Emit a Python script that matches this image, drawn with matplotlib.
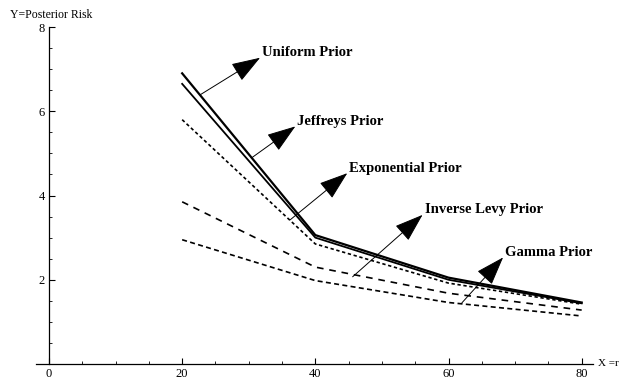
import matplotlib
matplotlib.use('Agg')
import matplotlib.pyplot as plt

# --- data ---
r = [20, 40, 60, 80]
uniform     = [6.90, 3.06, 2.05, 1.46]
jeffreys    = [6.65, 3.00, 2.00, 1.44]
exponential = [5.80, 2.85, 1.92, 1.42]
inv_levy    = [3.85, 2.30, 1.68, 1.28]
gamma       = [2.95, 1.98, 1.46, 1.14]

names  = ['Uniform Prior', 'Jeffreys Prior', 'Exponential Prior',
          'Inverse Levy Prior', 'Gamma Prior']
series = [uniform, jeffreys, exponential, inv_levy, gamma]
styles = [dict(ls='-', lw=1.6),
          dict(ls='-', lw=1.3),
          dict(ls=(0, (2.0, 1.6)), lw=1.2),
          dict(ls=(0, (4.0, 3.5)), lw=1.2),
          dict(ls=(0, (3.0, 2.0)), lw=1.2)]

# arrow tail (on curve) and label position, in data units
tails  = [(22.7, 6.39), (30.4, 4.89), (36.2, 3.42), (45.6, 2.07), (62.0, 1.45)]
labels = [(32.0, 7.39), (37.3, 5.76), (45.1, 4.65), (56.4, 3.66), (68.5, 2.65)]

plt.rcParams['font.family'] = ['Liberation Serif', 'DejaVu Serif']

fig = plt.figure(figsize=(6.2, 3.79), dpi=100)
ax = fig.add_axes([36/620, (379-364)/379, 557/620, 337/379])

for ys, st in zip(series, styles):
    ax.plot(r, ys, color='k', **st)

for name, (tx, ty), (lx, ly) in zip(names, tails, labels):
    ax.annotate('', xy=(lx - 0.3, ly - 0.12), xytext=(tx, ty),
                arrowprops=dict(arrowstyle='-|>,head_length=1.3,head_width=0.45',
                                mutation_scale=14, lw=0.7, color='k',
                                shrinkA=0, shrinkB=0))
    ax.text(lx, ly, name, fontsize=10.5, fontweight='bold',
            ha='left', va='center')

ax.set_xlim(-1.95, 81.7)
ax.set_ylim(0, 8)
ax.spines['left'].set_position(('data', 0))
ax.spines['right'].set_visible(False)
ax.spines['top'].set_visible(False)
ax.spines['left'].set_linewidth(0.9)
ax.spines['bottom'].set_linewidth(0.9)

ax.set_xticks([0, 20, 40, 60, 80])
ax.set_xticks(range(0, 81, 5), minor=True)
ax.set_yticks([2, 4, 6, 8])
ax.set_yticks([v * 0.5 for v in range(1, 17)], minor=True)
ax.tick_params(axis='both', which='major', direction='in', length=4,
               width=0.8, labelsize=9, pad=3)
ax.tick_params(axis='both', which='minor', direction='in', length=2,
               width=0.6)

fig.text(10/620, 1 - 15/379, 'Y=Posterior Risk', fontsize=8.5,
         ha='left', va='center')
fig.text(598/620, (379-364)/379, 'X =r', fontsize=8,
         ha='left', va='center')

fig.savefig('out.png', dpi=100)
